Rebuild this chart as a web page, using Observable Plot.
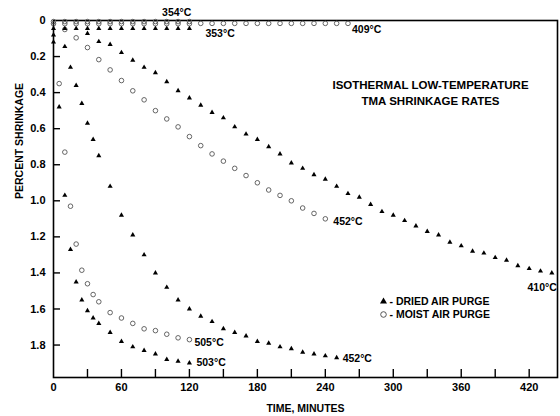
<!DOCTYPE html>
<html><head><meta charset="utf-8">
<script src="https://cdn.jsdelivr.net/npm/d3@7"></script>
<script src="https://cdn.jsdelivr.net/npm/@observablehq/plot@0.6"></script>
<style>body{margin:0;background:#fff}</style>
</head><body><div id="chart"></div>
<script>
// ---- axis ticks ----
const xTickLabels = [0, 60, 120, 180, 240, 300, 360, 420];
const xTickMarks = [30, 60, 90, 120, 150, 180, 210, 240, 270, 300, 330, 360, 390, 420];
const yTicks = [0, 0.2, 0.4, 0.6, 0.8, 1.0, 1.2, 1.4, 1.6, 1.8];

// ---- series (time in minutes, percent shrinkage) ----
// moist air purge, 409 °C
const t409 = [0,10,20,30,40,50,60,70,80,90,100,110,120,130,140,150,160,170,180,190,200,210,220,230,240,250,260];
const v409 = [0.018,0.018,0.018,0.018,0.018,0.018,0.018,0.018,0.018,0.018,0.018,0.018,0.018,0.016,0.016,0.016,0.016,0.016,0.016,0.016,0.016,0.016,0.016,0.016,0.016,0.016,0.016];
// moist air purge, 354 °C
const t354 = [0,10,20,30,40,50,60,70,80,90,100,110,120];
const v354 = [0.006,0.006,0.006,0.006,0.006,0.006,0.006,0.006,0.006,0.006,0.006,0.006,0.006];
// dried air purge, 353 °C
const t353 = [0,10,20,30,40,50,60,70,80,90,100,110,120];
const v353 = [0.045,0.045,0.045,0.045,0.045,0.045,0.045,0.045,0.045,0.045,0.045,0.045,0.045];
// dried air purge, 410 °C
const t410 = [30,40,50,60,70,80,90,100,110,120,130,140,150,160,170,180,190,200,210,220,230,240,250,260,270,280,290,300,310,320,330,340,350,360,370,380,390,400,410,420,430,440];
const v410 = [0.072,0.117,0.133,0.178,0.22,0.26,0.29,0.34,0.39,0.43,0.47,0.51,0.54,0.59,0.63,0.66,0.70,0.74,0.79,0.82,0.855,0.88,0.92,0.96,0.98,1.02,1.06,1.08,1.11,1.14,1.17,1.19,1.23,1.25,1.28,1.29,1.315,1.33,1.36,1.376,1.39,1.40];
// moist air purge, 452 °C
const t452m = [10,20,30,40,50,60,70,80,90,100,110,120,130,140,150,160,170,180,190,200,210,220,230,240];
const v452m = [0.05,0.096,0.15,0.217,0.274,0.333,0.39,0.44,0.50,0.546,0.59,0.644,0.694,0.74,0.78,0.82,0.86,0.90,0.94,0.97,1.00,1.04,1.07,1.10];
// dried air purge, 452 °C
const t452d = [0,10,15,20,25,30,35,40,50,60,70,80,90,100,110,120,130,140,150,160,170,180,190,200,210,220,230,240,250];
const v452d = [0.08,0.145,0.26,0.36,0.46,0.57,0.66,0.75,0.92,1.08,1.19,1.30,1.40,1.48,1.55,1.60,1.64,1.67,1.71,1.73,1.75,1.78,1.79,1.81,1.82,1.84,1.85,1.86,1.87];
// moist air purge, 505 °C
const t505 = [5,10,15,20,25,30,35,40,50,60,70,80,90,100,110,120];
const v505 = [0.35,0.73,1.03,1.24,1.385,1.46,1.52,1.56,1.62,1.65,1.68,1.71,1.72,1.74,1.76,1.77];
// dried air purge, 503 °C
const t503 = [0,5,10,15,20,25,30,35,40,50,60,70,80,90,100,110,120];
const v503 = [0.12,0.48,0.97,1.27,1.45,1.55,1.61,1.65,1.68,1.73,1.78,1.81,1.83,1.85,1.88,1.89,1.90];

const seriesNames = ["409", "354", "353", "410", "452m", "452d", "505", "503"];
const seriesLabels = ["409°C", "354°C", "353°C", "410°C", "452°C", "452°C", "505°C", "503°C"];
const seriesPurge = ["moist", "moist", "dried", "dried", "moist", "dried", "moist", "dried"];
const seriesT = [t409, t354, t353, t410, t452m, t452d, t505, t503];
const seriesV = [v409, v354, v353, v410, v452m, v452d, v505, v503];

const titleLines = "ISOTHERMAL LOW-TEMPERATURE\nTMA SHRINKAGE RATES";
const legendTexts = ["- DRIED AIR PURGE", "- MOIST AIR PURGE"];
const xLabel = "TIME, MINUTES";
const yLabel = "PERCENT SHRINKAGE";

// ---- build table ----
const rows = [];
seriesNames.forEach((name, i) => {
  seriesT[i].forEach((t, j) => rows.push({name, purge: seriesPurge[i], t, v: seriesV[i][j]}));
});
const lastOf = name => {
  const i = seriesNames.indexOf(name);
  const n = seriesT[i].length;
  return {t: seriesT[i][n - 1], v: seriesV[i][n - 1], label: seriesLabels[i]};
};

// label placement (style)
const labelPlacement = {
  "409":  {dx: 4, dy: 6, textAnchor: "start"},
  "354":  {dx: 2, dy: -9, textAnchor: "end"},
  "353":  {dx: 16, dy: 5, textAnchor: "start"},
  "410":  {dx: 5, dy: 15, textAnchor: "end"},
  "452m": {dx: 8, dy: 3, textAnchor: "start"},
  "452d": {dx: 6, dy: 1, textAnchor: "start"},
  "505":  {dx: 5, dy: 3, textAnchor: "start"},
  "503":  {dx: 7, dy: 0, textAnchor: "start"}
};

const font = "'Liberation Sans', Arial, Helvetica, sans-serif";
const fmtY = d => d === 0 ? "0" : d.toFixed(1);
const frameW = 560 - 53 - 3, frameH = 416 - 20 - 39;

const marks = [
  // inward tick marks drawn as short rules anchored to the frame edges
  Plot.ruleX(xTickMarks, {x: d => d, insetTop: frameH - 8, stroke: "black", strokeWidth: 1.4}),
  Plot.ruleY(yTicks.slice(1), {y: d => d, insetRight: frameW - 7, stroke: "black", strokeWidth: 1.4}),
  Plot.frame({stroke: "black", strokeWidth: 1.6}),
  Plot.axisX({ticks: xTickLabels, tickSize: 0, tickPadding: 6, fontSize: 11, fontWeight: "bold", label: null}),
  Plot.axisY({ticks: yTicks, tickSize: 0, tickPadding: 8, tickFormat: fmtY, fontSize: 11, fontWeight: "bold", label: null}),
  Plot.dot(rows.filter(d => d.purge === "moist"), {x: "t", y: "v", symbol: "circle", r: 2.3, fill: "none", stroke: "#555", strokeWidth: 0.9}),
  Plot.dot(rows.filter(d => d.purge === "dried"), {x: "t", y: "v", symbol: "triangle", r: 1.9, fill: "black"}),
  ...seriesNames.map(name => Plot.text([lastOf(name)], {
    x: "t", y: "v", text: "label", fontSize: 10.5, fontWeight: "bold", fill: "black",
    ...labelPlacement[name]
  })),
  Plot.text([titleLines], {frameAnchor: "top-right", dx: -127, dy: 71, text: d => d, fontSize: 11.5, fontWeight: "bold", lineHeight: 1.4, textAnchor: "middle", lineAnchor: "middle"}),
  Plot.dot([0], {frameAnchor: "top-left", dx: 330, dy: 281, symbol: "triangle", r: 2.6, fill: "black"}),
  Plot.dot([0], {frameAnchor: "top-left", dx: 330, dy: 294, symbol: "circle", r: 2.8, fill: "none", stroke: "#444", strokeWidth: 0.9}),
  Plot.text([legendTexts[0]], {frameAnchor: "top-left", dx: 336, dy: 281, text: d => d, textAnchor: "start", lineAnchor: "middle", fontSize: 10.5, fontWeight: "bold"}),
  Plot.text([legendTexts[1]], {frameAnchor: "top-left", dx: 336, dy: 294, text: d => d, textAnchor: "start", lineAnchor: "middle", fontSize: 10.5, fontWeight: "bold"}),
  Plot.text([xLabel], {frameAnchor: "bottom", dy: 31, text: d => d, lineAnchor: "middle", fontSize: 10.5, fontWeight: "bold"}),
  Plot.text([yLabel], {frameAnchor: "left", dx: -34, rotate: -90, text: d => d, fontSize: 10.5, fontWeight: "bold"})
];

const chart = Plot.plot({
  width: 560,
  height: 416,
  marginLeft: 53,
  marginTop: 20,
  marginRight: 3,
  marginBottom: 39,
  style: {fontFamily: font, background: "#fff", color: "black"},
  x: {domain: [0, 445], axis: null},
  y: {domain: [0, 1.98], reverse: true, axis: null},
  marks
});
document.getElementById("chart").appendChild(chart);
</script>
</body></html>
